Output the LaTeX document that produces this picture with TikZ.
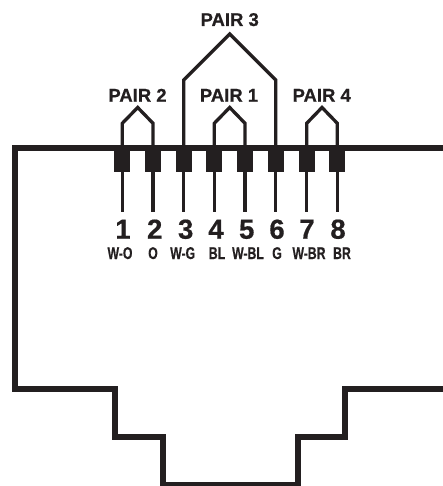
\documentclass[tikz,border=0pt]{standalone}
\usepackage{fontspec}
\setmainfont{Liberation Sans}
\newfontfamily\heavyface[FakeBold=0.6]{Liberation Sans Bold}
\definecolor{ink}{HTML}{231F20}
\tikzset{
  pinbox/.style={draw=none,fill=ink,minimum width=16pt,minimum height=21pt,inner sep=0pt,outer sep=0pt},
  wire/.style={draw=ink,line width=3.3pt,line cap=butt,miter limit=10},
  shell/.style={draw=ink,line width=6pt,miter limit=10},
  pairlabel/.style={anchor=base,inner sep=0pt,text=ink,font=\fontsize{18.5}{20}\selectfont\heavyface},
  digitlabel/.style={anchor=base,inner sep=0pt,text=ink,font=\fontsize{27.5}{29}\selectfont\heavyface},
  colorlabel/.style={anchor=base,inner sep=0pt,text=ink,font=\fontsize{17}{19}\selectfont\heavyface,xscale=0.72},
}
\begin{document}
\begin{tikzpicture}[x=1pt,y=-1pt]
\useasboundingbox (0,0) rectangle (443,486);
% shell
\coordinate (s1) at (443,148.5);
\coordinate (s2) at (14.7,148.5);
\coordinate (s3) at (14.7,389);
\coordinate (s4) at (115,389);
\coordinate (s5) at (115,436.5);
\coordinate (s6) at (163,436.5);
\coordinate (s7) at (163,484.5);
\coordinate (s8) at (298,484.5);
\coordinate (s9) at (298,436.5);
\coordinate (s10) at (345,436.5);
\coordinate (s11) at (345,389);
\coordinate (s12) at (443,389);
\draw[shell] (s1) -- (s2) -- (s3) -- (s4) -- (s5) -- (s6) -- (s7) -- (s8) -- (s9) -- (s10) -- (s11) -- (s12);
% pins, wires, numbers, colour codes
\foreach \i/\x/\dx/\cx/\code in {
  1/122.3/123/120/W-O, 2/153/154.7/153/O, 3/183.7/185.7/182.7/W-G, 4/214.3/216/217/BL,
  5/245/246.7/248/W-BL, 6/275.7/277/277/G, 7/306.7/307/309/W-BR, 8/337.3/338/342/BR}{
  \node[pinbox] (p\i) at (\x,161.5) {};
  \coordinate (e\i) at (\x,211.7);
  \coordinate (t\i) at (\x,148.5);
  \draw[wire] (p\i.south) -- (e\i);
  \node[digitlabel] (n\i) at (\dx,238.7) {\i};
  \node[colorlabel] (c\i) at (\cx,259) {\code};
}
% pair brackets
\coordinate (a2) at (122.3,123.3); \coordinate (k2) at (137.7,107.5); \coordinate (b2) at (153,123.3);
\coordinate (a1) at (214.3,123.3); \coordinate (k1) at (229.7,107.5); \coordinate (b1) at (245,123.3);
\coordinate (a4) at (306.7,123.3); \coordinate (k4) at (322,107.5);   \coordinate (b4) at (337.3,123.3);
\coordinate (a3) at (183.7,80);    \coordinate (k3) at (229.7,34);    \coordinate (b3) at (275.7,80);
\draw[wire] (t1) -- (a2) -- (k2) -- (b2) -- (t2);
\draw[wire] (t4) -- (a1) -- (k1) -- (b1) -- (t5);
\draw[wire] (t7) -- (a4) -- (k4) -- (b4) -- (t8);
\draw[wire] (t3) -- (a3) -- (k3) -- (b3) -- (t6);
\node[pairlabel] (l2) at (137.5,101.7) {PAIR 2};
\node[pairlabel] (l1) at (229,101.7) {PAIR 1};
\node[pairlabel] (l4) at (321.7,101.7) {PAIR 4};
\node[pairlabel] (l3) at (229.7,26) {PAIR 3};
\end{tikzpicture}
\end{document}
